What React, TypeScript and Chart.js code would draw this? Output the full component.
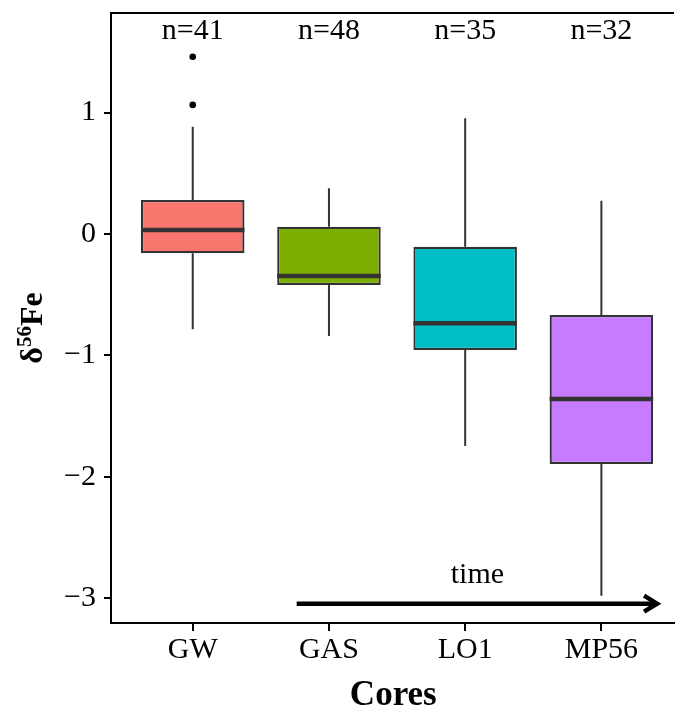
import React, { useEffect, useRef } from "react";
import { Chart, registerables } from "chart.js";

Chart.register(...registerables);

// ---- data ----
const categories = ["GW", "GAS", "LO1", "MP56"];
const counts = [41, 48, 35, 32];
const q1Values = [-0.159, -0.42, -0.955, -1.895];
const q3Values = [0.28, 0.06, -0.105, -0.667];
const medianValues = [0.033, -0.346, -0.736, -1.359];
const whiskerLow = [-0.785, -0.84, -1.746, -2.98];
const whiskerHigh = [0.884, 0.376, 0.953, 0.274];
const outlierCategory = [0, 0];
const outlierValues = [1.46, 1.063];
const boxColors = ["#F8766D", "#7CAE00", "#00BFC4", "#C77CFF"];
const yTicks = [-3, -2, -1, 0, 1];
const yRange = [-3.204, 1.82];
const xRange = [-0.6, 3.533];
const countLabelY = 1.606;
const arrowFrom = [0.763, -3.045];
const arrowTo = [3.416, -3.045];
const timeLabel = { text: "time", x: 2.09, y: -2.875 };
const xTitle = "Cores";
const yTitleParts = ["δ", "56", "Fe"];

const FONT = "'Liberation Serif', 'Times New Roman', serif";
const EDGE = "#333333";

const boxPlugin = {
  id: "boxExtras",
  beforeDatasetsDraw(chart: any) {
    const { ctx } = chart;
    const x = chart.scales.x;
    const y = chart.scales.y;
    ctx.save();
    ctx.strokeStyle = EDGE;
    ctx.lineWidth = 2;
    categories.forEach((_, i) => {
      const px = x.getPixelForValue(i);
      ctx.beginPath();
      ctx.moveTo(px, y.getPixelForValue(q3Values[i]));
      ctx.lineTo(px, y.getPixelForValue(whiskerHigh[i]));
      ctx.moveTo(px, y.getPixelForValue(q1Values[i]));
      ctx.lineTo(px, y.getPixelForValue(whiskerLow[i]));
      ctx.stroke();
    });
    ctx.restore();
  },
  afterDatasetsDraw(chart: any) {
    const { ctx, chartArea } = chart;
    const x = chart.scales.x;
    const y = chart.scales.y;
    const meta = chart.getDatasetMeta(0);
    ctx.save();
    // medians
    ctx.strokeStyle = EDGE;
    ctx.lineWidth = 4.5;
    meta.data.forEach((bar: any, i: number) => {
      const py = y.getPixelForValue(medianValues[i]);
      ctx.beginPath();
      ctx.moveTo(bar.x - bar.width / 2, py);
      ctx.lineTo(bar.x + bar.width / 2, py);
      ctx.stroke();
    });
    // top border
    ctx.strokeStyle = "#000";
    ctx.lineWidth = 2;
    ctx.beginPath();
    ctx.moveTo(chartArea.left - 1, chartArea.top);
    ctx.lineTo(chartArea.right, chartArea.top);
    ctx.stroke();
    // x tick marks
    ctx.beginPath();
    categories.forEach((_, i) => {
      const px = Math.round(x.getPixelForValue(i));
      ctx.moveTo(px, chartArea.bottom);
      ctx.lineTo(px, chartArea.bottom + 8);
    });
    ctx.stroke();
    // counts
    ctx.fillStyle = "#000";
    ctx.font = `30px ${FONT}`;
    ctx.textAlign = "center";
    ctx.textBaseline = "alphabetic";
    categories.forEach((_, i) => {
      ctx.fillText(`n=${counts[i]}`, x.getPixelForValue(i), y.getPixelForValue(countLabelY));
    });
    // arrow
    const x0 = x.getPixelForValue(arrowFrom[0]);
    const y0 = y.getPixelForValue(arrowFrom[1]);
    const x1 = x.getPixelForValue(arrowTo[0]);
    const y1 = y.getPixelForValue(arrowTo[1]);
    ctx.strokeStyle = "#000";
    ctx.lineWidth = 4.5;
    ctx.lineCap = "butt";
    ctx.beginPath();
    ctx.moveTo(x0, y0);
    ctx.lineTo(x1 - 2, y1);
    ctx.stroke();
    ctx.lineJoin = "miter";
    ctx.beginPath();
    ctx.moveTo(x1 - 14, y1 - 8);
    ctx.lineTo(x1 - 1, y1);
    ctx.lineTo(x1 - 14, y1 + 8);
    ctx.stroke();
    // time label
    ctx.fillText(timeLabel.text, x.getPixelForValue(timeLabel.x), y.getPixelForValue(timeLabel.y));
    // x title
    ctx.font = `bold 35px ${FONT}`;
    ctx.fillText(xTitle, (chartArea.left + x.getPixelForValue(xRange[1] + 0.07)) / 2 - 4, 705);
    // y title
    const big = `bold 32px ${FONT}`;
    const small = `bold 21px ${FONT}`;
    ctx.textAlign = "left";
    ctx.font = big;
    const w0 = ctx.measureText(yTitleParts[0]).width;
    const w2 = ctx.measureText(yTitleParts[2]).width;
    ctx.font = small;
    const w1 = ctx.measureText(yTitleParts[1]).width;
    const total = w0 + w1 + w2;
    const cy = (chartArea.top + chartArea.bottom) / 2 + 10;
    ctx.translate(42, cy);
    ctx.rotate(-Math.PI / 2);
    let cx = -total / 2;
    ctx.font = big;
    ctx.fillText(yTitleParts[0], cx, 0);
    cx += w0;
    ctx.font = small;
    ctx.fillText(yTitleParts[1], cx, -11);
    cx += w1;
    ctx.font = big;
    ctx.fillText(yTitleParts[2], cx, 0);
    ctx.restore();
  },
};

export default function App() {
  const ref = useRef<HTMLCanvasElement | null>(null);
  useEffect(() => {
    document.body.style.margin = "0";
    if (!ref.current) return;
    const chart = new Chart(ref.current, {
      type: "bar",
      data: {
        datasets: [
          {
            type: "bar",
            data: categories.map((_, i) => ({ x: i, y: [q1Values[i], q3Values[i]] })) as any,
            backgroundColor: boxColors,
            borderColor: EDGE,
            borderWidth: 2.2,
            borderSkipped: false,
            barPercentage: 0.76,
            categoryPercentage: 1,
            order: 2,
          } as any,
          {
            type: "scatter",
            data: outlierValues.map((v, i) => ({ x: outlierCategory[i], y: v })),
            pointRadius: 3.3,
            pointBackgroundColor: "#000",
            pointBorderWidth: 0,
            order: 1,
          } as any,
        ],
      },
      options: {
        animation: false,
        responsive: true,
        maintainAspectRatio: false,
        events: [],
        layout: { padding: { top: 13, left: 0, right: 0, bottom: 0 } },
        plugins: { legend: { display: false }, tooltip: { enabled: false } },
        scales: {
          x: {
            type: "linear",
            min: xRange[0],
            max: xRange[1],
            offset: false,
            afterBuildTicks: (s: any) => {
              s.ticks = categories.map((_, i) => ({ value: i }));
            },
            afterFit: (s: any) => {
              s.height = 90;
              s.paddingLeft = 0;
              s.paddingRight = 0;
            },
            ticks: {
              callback: (v: any) => categories[v as number],
              font: { family: FONT, size: 30 },
              color: "#000",
              padding: 1,
              maxRotation: 0,
              autoSkip: false,
            },
            grid: { offset: false, drawOnChartArea: false, drawTicks: true, tickLength: 8, color: "#000", lineWidth: 2 },
            border: { display: true, color: "#000", width: 2 },
          },
          y: {
            type: "linear",
            min: yRange[0],
            max: yRange[1],
            afterBuildTicks: (s: any) => {
              s.ticks = yTicks.map((v) => ({ value: v }));
            },
            afterFit: (s: any) => {
              s.width = 111;
              s.paddingTop = 0;
              s.paddingBottom = 0;
            },
            ticks: {
              callback: (v: any) => (v < 0 ? "\u2212" + Math.abs(v) : String(v)),
              font: { family: FONT, size: 30 },
              color: "#000",
              padding: 8,
            },
            grid: { drawOnChartArea: false, drawTicks: true, tickLength: 7, color: "#000", lineWidth: 2 },
            border: { display: true, color: "#000", width: 2 },
          },
        },
      },
      plugins: [boxPlugin],
    });
    return () => chart.destroy();
  }, []);
  return (
    <div style={{ position: "fixed", left: 0, top: 0, width: 678, height: 713 }}>
      <canvas ref={ref} />
    </div>
  );
}
